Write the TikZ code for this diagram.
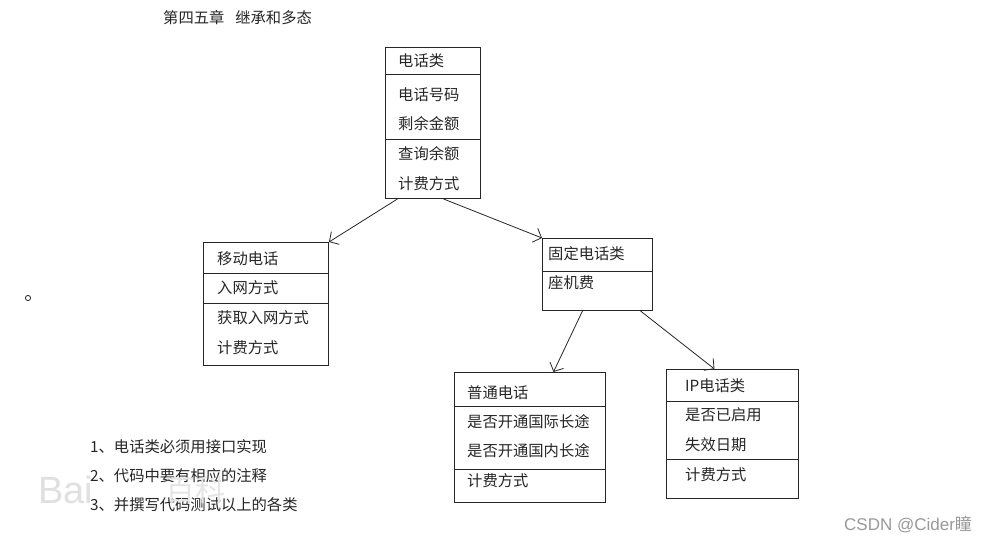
\documentclass[tikz,border=0pt]{standalone}
\usepackage{fontspec}
\setmainfont{Noto Sans CJK SC}
\newfontfamily\latinfont{Liberation Sans}
\usetikzlibrary{arrows.meta}
\begin{document}
\begin{tikzpicture}[x=1pt,y=-1pt,
  cls/.style={draw=black!85, line width=0.95pt, rectangle, inner sep=0pt, anchor=north west},
  sep/.style={draw=black!85, line width=0.95pt},
  lbl/.style={anchor=west, inner sep=0pt, font=\fontsize{15.3}{17}\selectfont, text=black!85},
  gen/.style={draw=black!85, line width=0.8pt, -{Straight Barb[length=7pt,width=15pt]}},
  note/.style={anchor=west, inner sep=0pt, font=\fontsize{15.3}{17}\selectfont, text=black!85}
]
\useasboundingbox (0,0) rectangle (982,542);
\fill[white] (0,0) rectangle (982,542);

% title
\node[note] (title) at (163,18) {第四五章\hspace{11pt}继承和多态};

% 电话类
\node[cls, minimum width=95pt, minimum height=151pt] (phone) at (385,47) {};
\draw[sep] (phone.west |- 0,74) -- (phone.east |- 0,74);
\draw[sep] (phone.west |- 0,139) -- (phone.east |- 0,139);
\node[lbl] (p1) at (398,61) {电话类};
\node[lbl] (p2) at (398,95) {电话号码};
\node[lbl] (p3) at (398,124) {剩余金额};
\node[lbl] (p4) at (398,154) {查询余额};
\node[lbl] (p5) at (398,184) {计费方式};

% 移动电话
\node[cls, minimum width=125pt, minimum height=123pt] (mobile) at (203,242) {};
\draw[sep] (mobile.west |- 0,273) -- (mobile.east |- 0,273);
\draw[sep] (mobile.west |- 0,303) -- (mobile.east |- 0,303);
\node[lbl] (m1) at (217,259) {移动电话};
\node[lbl] (m2) at (217,288) {入网方式};
\node[lbl] (m3) at (217,318) {获取入网方式};
\node[lbl] (m4) at (217,348) {计费方式};

% 固定电话类
\node[cls, minimum width=110pt, minimum height=72pt] (fixed) at (542,238) {};
\draw[sep] (fixed.west |- 0,271) -- (fixed.east |- 0,271);
\node[lbl] (f1) at (548,254) {固定电话类};
\node[lbl] (f2) at (548,283) {座机费};

% 普通电话
\node[cls, minimum width=151pt, minimum height=130pt] (normal) at (454,372) {};
\draw[sep] (normal.west |- 0,406) -- (normal.east |- 0,406);
\draw[sep] (normal.west |- 0,469) -- (normal.east |- 0,469);
\node[lbl] (n1) at (467,393) {普通电话};
\node[lbl] (n2) at (467,422) {是否开通国际长途};
\node[lbl] (n3) at (467,451) {是否开通国内长途};
\node[lbl] (n4) at (467,481) {计费方式};

% IP电话类
\node[cls, minimum width=132pt, minimum height=129pt] (ip) at (666,369) {};
\draw[sep] (ip.west |- 0,401) -- (ip.east |- 0,401);
\draw[sep] (ip.west |- 0,459) -- (ip.east |- 0,459);
\node[lbl] (i1) at (685,386) {IP电话类};
\node[lbl] (i2) at (685,415) {是否已启用};
\node[lbl] (i3) at (685,445) {失效日期};
\node[lbl] (i4) at (685,475) {计费方式};

% connectors
\draw[gen] ([xshift=-35.5pt]phone.south) -- (mobile.north east);
\draw[gen] ([xshift=10.5pt]phone.south) -- (fixed.north west);
\draw[gen] ([xshift=-15pt]fixed.south) -- ([xshift=23.5pt]normal.north);
\draw[gen] ([xshift=43pt]fixed.south) -- ([xshift=-18pt]ip.north);

% small circle
\draw[black!85, line width=0.8pt] (28,298) circle (2.6pt);

% notes
\node[note] (t1) at (90,447) {1、电话类必须用接口实现};
\node[note] (t2) at (90,476) {2、代码中要有相应的注释};
\node[note] (t3) at (90,505) {3、并撰写代码测试以上的各类};

% watermarks
\node[anchor=west, inner sep=0pt, text=black!12, font=\latinfont\fontsize{38}{40}\selectfont] (wm1) at (38,490) {Bai};
\node[anchor=west, inner sep=0pt, text=black!10, font=\fontsize{30}{32}\selectfont] (wm2) at (165,490) {百科};
\node[anchor=west, inner sep=0pt, text=black!40, font=\latinfont\fontsize{17}{19}\selectfont] (csdn) at (844,524) {CSDN @Cider{\fontspec{Noto Sans CJK SC}瞳}};
\end{tikzpicture}
\end{document}
